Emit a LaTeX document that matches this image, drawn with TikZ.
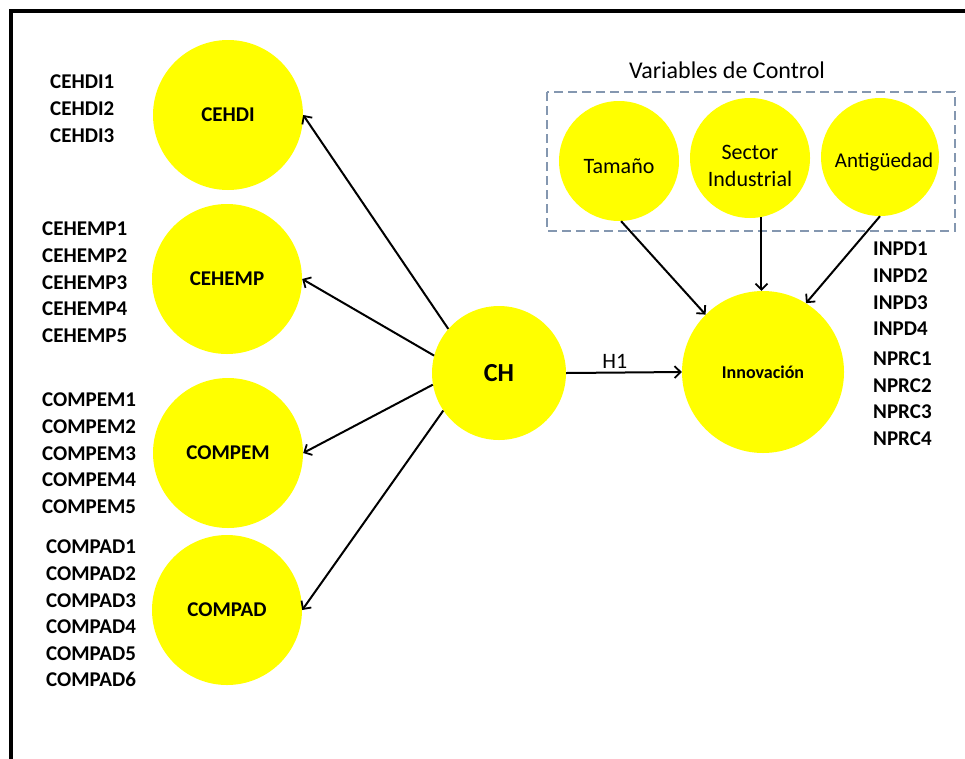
\documentclass[tikz,border=0pt]{standalone}
\usepackage{fontspec}
\setmainfont{Carlito}
\usepackage{xcolor}
\usepackage{tikz}
\usetikzlibrary{positioning, arrows.meta, calc}

\definecolor{ctrlblue}{HTML}{8497B0}
\definecolor{nodeyellow}{HTML}{FFFF00}

\tikzset{
  latent/.style={circle, fill=nodeyellow, inner sep=0pt, minimum size=150pt, align=center, font=\bfseries\fontsize{21}{24}\selectfont},
  control/.style={circle, fill=nodeyellow, inner sep=0pt, minimum size=120pt},
  ctrltext/.style={inner sep=0pt, align=center, font=\fontsize{22}{27}\selectfont},
  items/.style={anchor=north west, inner sep=0pt, align=left, font=\bfseries\fontsize{21}{26.6}\selectfont},
  link/.style={line width=2pt, -{Straight Barb[length=6pt,width=12pt,line width=1.8pt]}},
}

\begin{document}
\begin{tikzpicture}[x=1pt, y=-1pt]
    \useasboundingbox (0,0) rectangle (965,758);
    % outer frame (right and bottom edges run off the page)
    \draw[line width=4pt] (11,800) -- (11,11) -- (1000,11);

    % first order constructs
    \node[latent] (cehdi)  at (228,115) {CEHDI};
    \node[latent] (cehemp) at (227,279) {CEHEMP};
    \node[latent] (compem) at (228,453) {COMPEM};
    \node[latent] (compad) at (227,610) {COMPAD};

    % indicators
    \node[items] (lcehdi)  at (50,75)  {CEHDI1\\CEHDI2\\CEHDI3};
    \node[items] (lcehemp) at (42,222) {CEHEMP1\\CEHEMP2\\CEHEMP3\\CEHEMP4\\CEHEMP5};
    \node[items] (lcompem) at (42,393) {COMPEM1\\COMPEM2\\COMPEM3\\COMPEM4\\COMPEM5};
    \node[items] (lcompad) at (46,540) {COMPAD1\\COMPAD2\\COMPAD3\\COMPAD4\\COMPAD5\\COMPAD6};

    % capital humano and innovation
    \node[latent, minimum size=134pt, font=\bfseries\fontsize{26}{30}\selectfont] (ch) at (499,373) {CH};
    \node[latent, minimum size=162pt, font=\bfseries\fontsize{18}{21}\selectfont] (innov) at (763,372) {Innovación};
    \node[items] (linnov) at (873,242) {INPD1\\INPD2\\INPD3\\INPD4\\[3.5pt]NPRC1\\NPRC2\\NPRC3\\NPRC4};

    % control variables
    \draw[ctrlblue, line width=2pt, dash pattern=on 9pt off 5pt] (547,92) rectangle (955,231);
    \node[font=\fontsize{24}{28}\selectfont] (ctrltitle) at (727,70) {Variables de Control};
    \node[control] (tam)    at (619,161) {};
    \node[control] (sector) at (750,158) {};
    \node[control, minimum size=118pt] (antig) at (880,157) {};
    \node[ctrltext] (ttam)    at ([yshift=-5pt]tam.center) {Tamaño};
    \node[ctrltext] (tsector) at ([yshift=-8pt]sector.center) {Sector\\Industrial};
    \node[ctrltext, font=\fontsize{21}{27}\selectfont] (tantig) at ([xshift=4pt, yshift=-5pt]antig.center) {Antigüedad};

    % paths
    \draw[link] (ch.139) -- (cehdi.east);
    \draw[link] (ch.165) -- (cehemp.east);
    \draw[link] (ch.190) -- (compem.east);
    \draw[link] (ch.214) -- (compad.east);
    \draw[link] (ch.east) -- node[above, pos=0.42, font=\fontsize{22}{26}\selectfont] {H1} (innov.west);

    \draw[link] (tam.272) -- (innov.135);
    \draw[link] (sector.-79) -- (sector.-79 |- innov.north);
    \draw[link] (antig.south) -- (innov.58);
\end{tikzpicture}
\end{document}
